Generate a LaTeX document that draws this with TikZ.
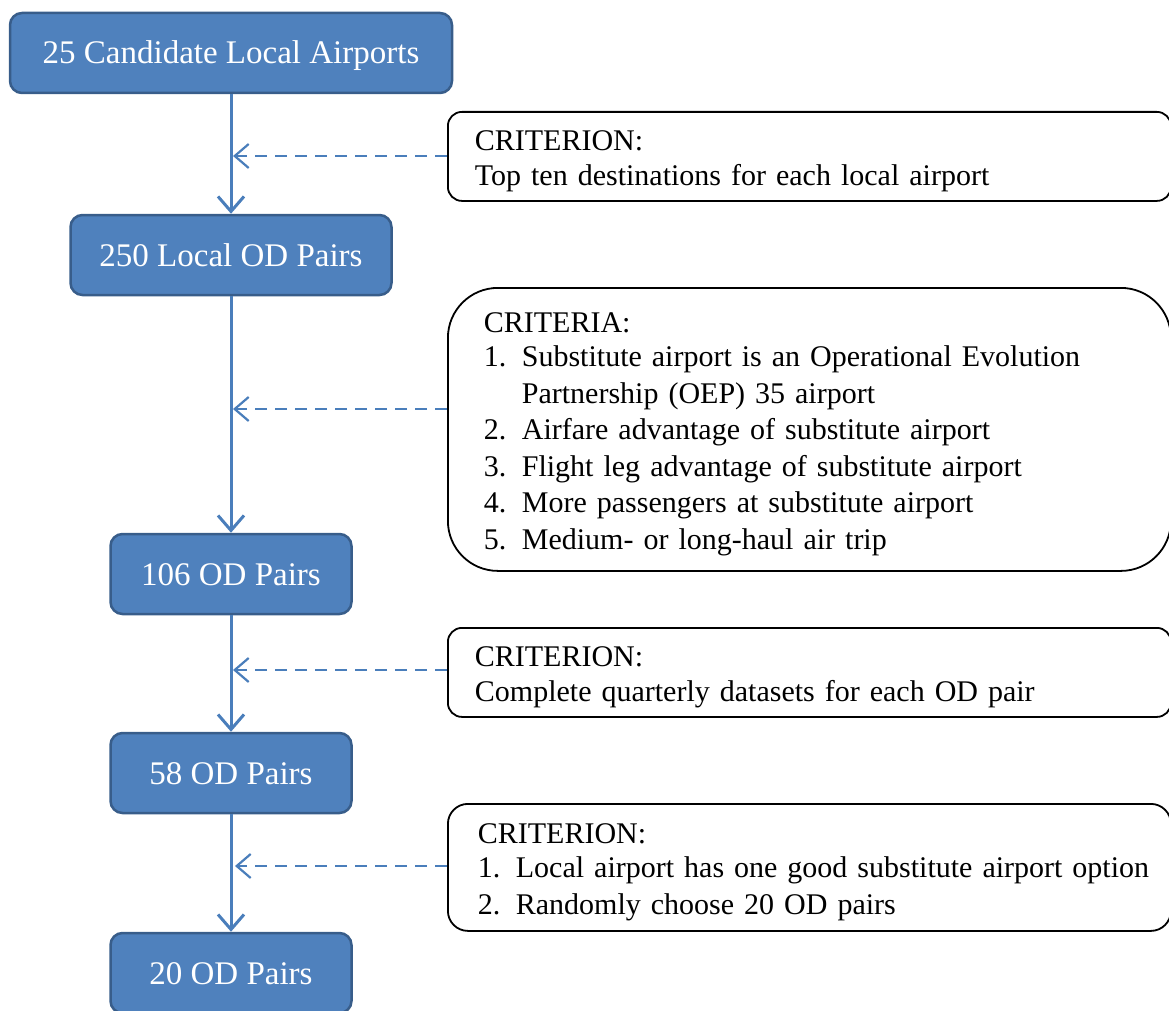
\documentclass[tikz,border=0pt]{standalone}
\usepackage{fontspec}
\setmainfont{Liberation Serif}
\usetikzlibrary{positioning, arrows.meta}
\definecolor{boxblue}{HTML}{4F81BD}
\definecolor{boxedge}{HTML}{385D8A}
\definecolor{linkblue}{HTML}{4A7EBB}
\newcommand{\critstrut}{\rule[-5.7pt]{0pt}{34.7pt}}
\newcommand{\critnum}[2]{\critstrut\makebox[38pt][l]{#1}\mbox{#2}}

\begin{document}
\begin{tikzpicture}[x=1pt, y=-1pt,
    stage/.style={draw=boxedge, line width=2.5pt, fill=boxblue, rounded corners=12pt,
        minimum height=80pt, inner sep=0pt, text height=22pt, text depth=0pt,
        text=white, font=\fontsize{33}{38}\selectfont},
    crit/.style={draw=black, line width=1.8pt, fill=white, anchor=north west,
        align=left, inner ysep=0pt, font=\fontsize{30}{34.7}\selectfont},
    flow/.style={linkblue, line width=3pt, -{Straight Barb[length=15pt,width=26pt]}},
    feed/.style={linkblue, line width=2.2pt, dash pattern=on 12pt off 8pt,
        shorten >=2pt, -{Straight Barb[length=14pt,width=24pt]}}]
    \clip (0,0) rectangle (1169,1011);

    % stages
    \node[stage, minimum width=442pt] (airports) at (231,53) {25 Candidate Local Airports};
    \node[stage, minimum width=321pt] (local) at (231,255) {250 Local OD Pairs};
    \node[stage, minimum width=241pt] (od106) at (231,574) {106 OD Pairs};
    \node[stage, minimum width=241pt] (od58) at (231,773) {58 OD Pairs};
    \node[stage, minimum width=241pt] (od20) at (231,973) {20 OD Pairs};

    % criteria
    \node[crit, rounded corners=14pt, minimum height=89pt, inner xsep=27pt, text width=669pt] (crit1) at (447,111) {
        \critstrut CRITERION:\\
        \critstrut Top ten destinations for each local airport};
    \node[crit, rounded corners=50pt, minimum height=283pt, inner xsep=36pt, text width=651pt] (crit2) at (447,287) {
        \critstrut CRITERIA:\\
        \critnum{1.}{Substitute airport is an Operational Evolution}\\
        \critnum{}{Partnership (OEP) 35 airport}\\
        \critnum{2.}{Airfare advantage of substitute airport}\\
        \critnum{3.}{Flight leg advantage of substitute airport}\\
        \critnum{4.}{More passengers at substitute airport}\\
        \critnum{5.}{Medium- or long-haul air trip}};
    \node[crit, rounded corners=14pt, minimum height=89pt, inner xsep=27pt, text width=669pt] (crit3) at (447,627) {
        \critstrut CRITERION:\\
        \critstrut Complete quarterly datasets for each OD pair};
    \node[crit, rounded corners=20pt, minimum height=127pt, inner xsep=30pt, text width=663pt] (crit4) at (447,803) {
        \critstrut CRITERION:\\
        \critnum{1.}{Local airport has one good substitute airport option}\\
        \critnum{2.}{Randomly choose 20 OD pairs}};

    % main flow
    \draw[flow] (airports) -- (local);
    \draw[flow] (local) -- (od106);
    \draw[flow] (od106) -- (od58);
    \draw[flow] (od58) -- (od20);

    % criteria feeding in
    \coordinate (join1) at (231,156);
    \coordinate (join2) at (231,409);
    \coordinate (join3) at (231,670);
    \coordinate (join4) at (233,866);
    \draw[feed] (join1 -| crit1.west) -- (join1);
    \draw[feed] (join2 -| crit2.west) -- (join2);
    \draw[feed] (join3 -| crit3.west) -- (join3);
    \draw[feed] (join4 -| crit4.west) -- (join4);
\end{tikzpicture}
\end{document}
